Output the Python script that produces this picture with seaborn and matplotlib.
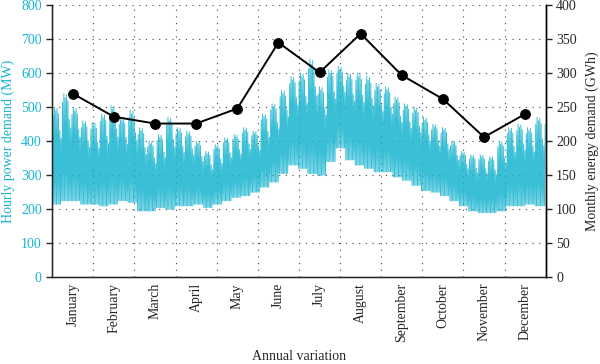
import numpy as np
import pandas as pd
import matplotlib
matplotlib.use("Agg")
import matplotlib.pyplot as plt
import seaborn as sns

# monthly energy demand (GWh)
months = ['January', 'February', 'March', 'April', 'May', 'June',
          'July', 'August', 'September', 'October', 'November', 'December']
monthly_gwh = [270, 236, 226, 226, 248, 345, 301, 358, 297, 262, 206, 240]

# weekly envelope of the hourly demand (MW): daily peaks and night troughs
week_high = [500, 540, 500, 460, 455, 480, 505, 470, 490, 440, 400, 420, 470,
             440, 430, 400, 370, 390, 410, 420, 440, 430, 480, 510, 550, 590,
             600, 640, 560, 610, 620, 600, 600, 590, 570, 560, 530, 510, 500,
             470, 450, 440, 400, 370, 360, 360, 355, 400, 440, 450, 440, 470]
week_low = [215, 225, 225, 215, 215, 210, 215, 225, 220, 195, 195, 205, 200,
            210, 210, 215, 205, 215, 225, 235, 240, 250, 265, 280, 305, 330,
            320, 305, 300, 340, 380, 345, 330, 320, 310, 310, 295, 285, 270,
            255, 250, 240, 225, 210, 195, 190, 190, 195, 210, 210, 215, 210]
# share of the weekly swing reached on each day of the week (weekends lower)
day_profile = [0.92, 1.0, 0.96, 0.99, 0.93, 0.76, 0.68]

CYAN = '#17b4cf'

sns.set_style("white")
plt.rcParams['font.family'] = ['Liberation Serif', 'DejaVu Serif']

# build the hourly trace: trough early morning, peak in the afternoon, each day
hours, mw = [], []
for d in range(365):
    w = min(d // 7, 51)
    lo, hi = week_low[w], week_high[w]
    hours += [d * 24 + 4, d * 24 + 15]
    mw += [lo, lo + (hi - lo) * day_profile[d % 7]]
hourly = pd.DataFrame({'month': np.array(hours) / 730.0, 'mw': mw})

monthly = pd.DataFrame({'month': np.arange(12) + 0.5, 'gwh': monthly_gwh})

fig = plt.figure(figsize=(6, 3.64), dpi=100)
ax = fig.add_axes([0.087, 0.238, 0.8225, 0.748])

sns.lineplot(data=hourly, x='month', y='mw', ax=ax, color=CYAN,
             linewidth=0.7, alpha=0.85, sort=False, estimator=None)

ax.set_xlim(0, 12)
ax.set_ylim(0, 800)
ax.set_yticks(range(0, 801, 100))
ax.set_xticks(range(13))
ax.set_xticklabels([])
ax.set_xticks(np.arange(12) + 0.5, minor=True)
ax.set_xticklabels(months, minor=True, rotation=90, fontsize=10)
ax.tick_params(axis='x', which='minor', length=0, pad=4)
ax.tick_params(axis='x', which='major', direction='inout', length=7, width=1)
ax.tick_params(axis='y', direction='out', length=4, width=1,
               labelcolor=CYAN, labelsize=10)
ax.grid(True, which='major', linestyle=(0, (1, 5)), color='#444444',
        linewidth=0.8)
ax.set_xlabel('Annual variation', fontsize=10, labelpad=6)
ax.set_ylabel('Hourly power demand (MW)', color=CYAN, fontsize=10, labelpad=4)
ax.spines['top'].set_visible(False)
for s in ['left', 'bottom', 'right']:
    ax.spines[s].set_color('black')
    ax.spines[s].set_linewidth(1)

ax2 = ax.twinx()
sns.lineplot(data=monthly, x='month', y='gwh', ax=ax2, color='black',
             linewidth=1.4, marker='o', markersize=7, markeredgecolor='black',
             markerfacecolor='black')
ax2.set_ylim(0, 400)
ax2.set_yticks(range(0, 401, 50))
ax2.tick_params(axis='y', direction='out', length=4, width=1, labelsize=10)
ax2.set_ylabel('Monthly energy demand (GWh)', fontsize=10, labelpad=6)
ax2.set_xlabel('')
ax2.spines['top'].set_visible(False)
ax2.spines['right'].set_color('black')
ax2.spines['right'].set_linewidth(1)

fig.savefig('out.png', dpi=100)
